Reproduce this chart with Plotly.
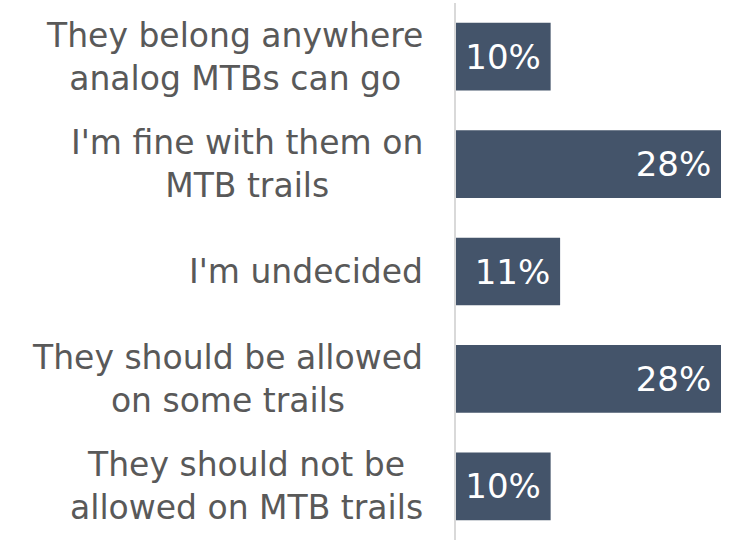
import plotly.graph_objects as go

categories = [
    "They belong anywhere<br>analog MTBs can go",
    "I'm fine with them on<br>MTB trails",
    "I'm undecided",
    "They should be allowed<br>on some trails",
    "They should not be<br>allowed on MTB trails",
]
values = [10, 28, 11, 28, 10]

BAR_COLOR = "#44546A"
LABEL_COLOR = "#595959"
FONT = "DejaVu Sans"

fig = go.Figure(
    go.Bar(
        x=values,
        y=categories,
        orientation="h",
        marker=dict(color=BAR_COLOR, line=dict(width=0)),
        width=0.63,
        texttemplate="%{x}%\u2009",
        textposition="inside",
        insidetextanchor="end",
        textangle=0,
        insidetextfont=dict(family=FONT, size=34, color="white"),
        hoverinfo="skip",
    )
)

for cat in categories:
    fig.add_annotation(
        x=0, xref="paper", y=cat, yref="y",
        text=cat, showarrow=False,
        xanchor="right", yanchor="middle", align="center",
        xshift=-31,
        font=dict(family=FONT, size=33, color=LABEL_COLOR),
    )

fig.update_layout(
    width=740, height=540,
    margin=dict(l=456, r=19, t=3, b=0),
    paper_bgcolor="white", plot_bgcolor="white",
    showlegend=False,
    bargap=0.37,
    font=dict(family=FONT),
)
fig.update_xaxes(range=[0, 28], visible=False, fixedrange=True)
fig.update_yaxes(
    categoryorder="array", categoryarray=categories, autorange="reversed",
    showticklabels=False, showgrid=False, zeroline=False,
    showline=True, linecolor="#D9D9D9", linewidth=2, ticks="",
    fixedrange=True,
)

fig.write_html(
    "out.html",
    config={"displayModeBar": False},
    post_script="document.body.style.margin='0';document.body.style.padding='0';",
)
